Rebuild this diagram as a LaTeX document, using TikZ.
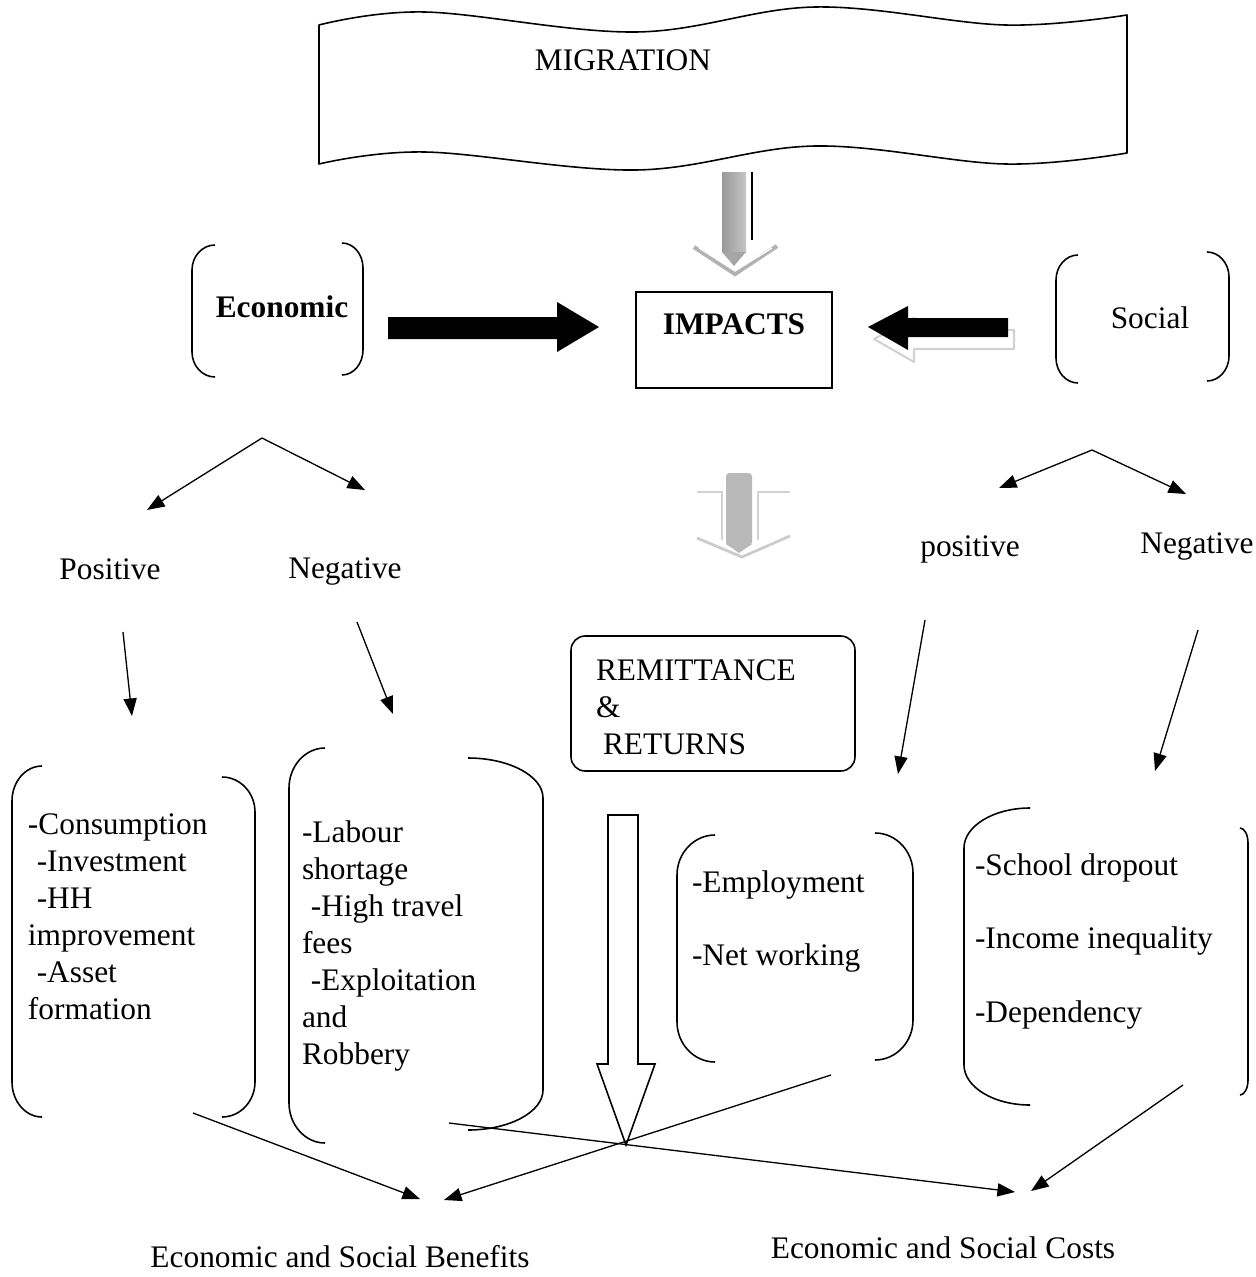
\documentclass[tikz,border=0pt]{standalone}
\usepackage{fontspec}
\setmainfont{Liberation Serif}
\usetikzlibrary{arrows.meta}
\newcommand{\brkLeft}[5]{% xv, yt, yb, xe, r
  \draw[brk] (#4,#2) .. controls (#4+0.55*#1-0.55*#4,#2) and (#1,#2+0.45*#5) .. (#1,#2+#5)
    -- (#1,#3-#5) .. controls (#1,#3-0.45*#5) and (#4+0.55*#1-0.55*#4,#3) .. (#4,#3);}
\begin{document}
\begin{tikzpicture}[x=0.02cm,y=-0.02cm,
  every node/.style={font=\fontsize{17.86}{21}\selectfont, inner sep=0pt, outer sep=0pt},
  brk/.style={line width=0.9pt},
  arr/.style={line width=0.75pt,-{Triangle[length=10pt,width=7.5pt]}},
  lst/.style={anchor=north west, align=left},
  lbl/.style={anchor=base}]
\useasboundingbox (0,0) rectangle (1256,1277);

% ---------- MIGRATION banner
\draw[line width=0.9pt, line join=round]
  plot[smooth, tension=0.6] coordinates {(319,25) (425,12) (636,32) (815,7) (1005,25) (1127,15)}
  -- (1127,153)
  -- plot[smooth, tension=0.6] coordinates {(1127,153) (1005,164) (815,146) (636,170) (425,152) (319,164)}
  -- cycle;
\node[lbl] (migration) at (623,71) {MIGRATION};

% ---------- grey 3D arrow migration -> impacts
\shade[left color=gray!80, right color=gray!45] (722,173) rectangle (746,252);
\fill[gray!70] (722,252) -- (746,252) -- (734,266) -- cycle;
\draw[gray!60, line width=2.4pt, line join=miter] (694,247) -- (735,274) -- (777,246);
\draw[white, line width=0.7pt] (699,248) -- (735,271) -- (772,248);
\draw[line width=0.6pt] (752,172) -- (752,240);

% ---------- IMPACTS
\node[draw, line width=0.9pt, minimum width=3.92cm, minimum height=1.92cm] (impactsbox) at (734,340) {};
\node[lbl, font=\fontsize{17.86}{21}\selectfont\bfseries] (impacts) at (734,334) {IMPACTS};

% ---------- Economic / Social
\brkLeft{192}{245}{377}{215}{25}
\brkLeft{363}{243}{375}{342}{25}
\node[lbl, font=\fontsize{17.86}{21}\selectfont\bfseries] (economic) at (282,317) {Economic};
\brkLeft{1056}{255}{383}{1078}{25}
\brkLeft{1229}{252}{381}{1207}{25}
\node[lbl] (social) at (1150,328) {Social};

% ---------- black arrows into IMPACTS
\fill (388,317) -- (557,317) -- (557,302) -- (599,327) -- (557,352) -- (557,339) -- (388,339) -- cycle;
\draw[gray!35, fill=white, line width=1.2pt, line join=round]
  (1014,330) -- (914,330) -- (914,318) -- (874,339) -- (914,362) -- (914,349) -- (1014,349) -- cycle;
\fill (1008,318) -- (908,318) -- (908,306) -- (868,327) -- (908,350) -- (908,337) -- (1008,337) -- cycle;

% ---------- faded middle arrow
\fill[gray!55, rounded corners=2pt] (726,473) rectangle (752,546);
\fill[gray!55] (726,544) -- (752,544) -- (739,553) -- cycle;
\draw[gray!35, line width=0.8pt] (697,492) -- (722,492) -- (722,540);
\draw[gray!35, line width=0.8pt] (790,492) -- (758,492) -- (758,540);
\draw[gray!40, line width=1.6pt] (697,538) -- (742,557) -- (790,536);

% ---------- split arrows
\coordinate (eApex) at (262,438);
\coordinate (ePos) at (147,510);
\coordinate (eNeg) at (365,490);
\draw[arr] (eApex) -- (ePos);
\draw[arr] (eApex) -- (eNeg);
\coordinate (sApex) at (1092,450);
\coordinate (sPos) at (999,488);
\coordinate (sNeg) at (1186,494);
\draw[arr] (sApex) -- (sPos);
\draw[arr] (sApex) -- (sNeg);

\node[lbl] (epositive) at (110,579) {Positive};
\node[lbl] (enegative) at (345,578) {Negative};
\node[lbl] (spositive) at (970,556) {positive};
\node[lbl] (snegative) at (1197,553) {Negative};

\coordinate (ePosS) at (123,632);
\coordinate (ePosE) at (132,716);
\coordinate (eNegS) at (357,622);
\coordinate (eNegE) at (393,714);
\coordinate (sPosS) at (925,620);
\coordinate (sPosE) at (898,774);
\coordinate (sNegS) at (1198,630);
\coordinate (sNegE) at (1155,771);
\draw[arr] (ePosS) -- (ePosE);
\draw[arr] (eNegS) -- (eNegE);
\draw[arr] (sPosS) -- (sPosE);
\draw[arr] (sNegS) -- (sNegE);

% ---------- REMITTANCE & RETURNS
\node[draw, line width=0.9pt, rounded corners=8pt, minimum width=5.68cm, minimum height=2.7cm] (remit) at (713,703.5) {};
\node[lst] (remittxt) at (596,660) {REMITTANCE\\\&\\\hspace{4pt}RETURNS};

% ---------- bracket boxes
\brkLeft{12}{766}{1117}{42}{35}
\brkLeft{255}{777}{1117}{222}{35}
\node[lst] (boxA) at (28,814) {-Consumption\\\hspace{5pt}-Investment\\\hspace{5pt}-HH\\improvement\\\hspace{5pt}-Asset\\formation};

\brkLeft{289}{748}{1143}{325}{40}
\brkLeft{543}{758}{1130}{468}{40}
\node[lst] (boxB) at (302,821) {-Labour\\shortage\\\hspace{5pt}-High travel\\fees\\\hspace{5pt}-Exploitation\\and\\Robbery};

\brkLeft{677}{835}{1062}{715}{40}
\brkLeft{913}{833}{1060}{875}{40}
\node[lst] (boxC) at (692,871) {-Employment\\[20.4pt]-Net working};

\brkLeft{964}{808}{1105}{1030}{40}
\brkLeft{1248}{828}{1095}{1240}{15}
\node[lst] (boxD) at (975,854) {-School dropout\\[20.5pt]-Income inequality\\[21pt]-Dependency};

% ---------- hollow down arrow
\draw[line width=0.9pt, fill=white, line join=miter]
  (608,815) -- (638,815) -- (638,1064) -- (655,1064) -- (626,1145) -- (597,1064) -- (608,1064) -- cycle;

% ---------- bottom connectors
\node[lbl] (benefits) at (340,1267) {Economic and Social Benefits};
\node[lbl] (costs) at (943,1258) {Economic and Social Costs};
\coordinate (aBot) at (193,1113);
\coordinate (bBot) at (449,1123);
\coordinate (cBot) at (831,1075);
\coordinate (dBot) at (1183,1085);
\coordinate (benA) at (420,1199);
\coordinate (benC) at (444,1200);
\coordinate (costB) at (1015,1192);
\coordinate (costD) at (1031,1191);
\draw[arr] (aBot) -- (benA);
\draw[arr] (cBot) -- (benC);
\draw[arr] (bBot) -- (costB);
\draw[arr] (dBot) -- (costD);
\end{tikzpicture}
\end{document}
